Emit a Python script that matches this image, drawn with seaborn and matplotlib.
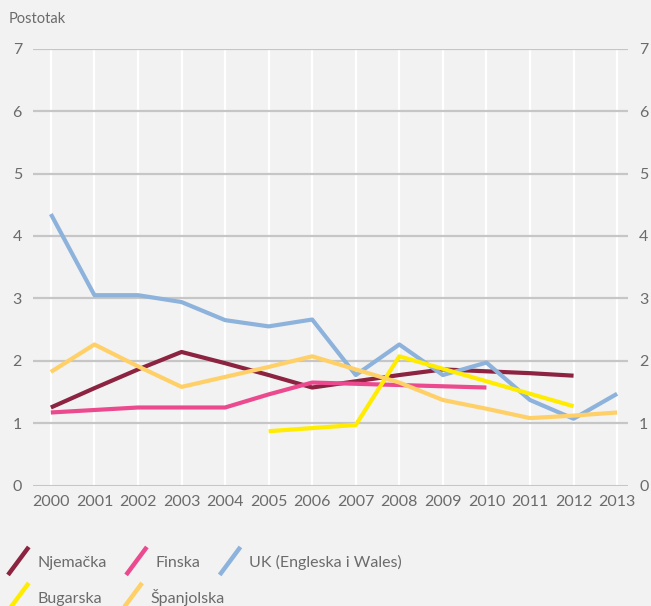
import numpy as np
import pandas as pd
import matplotlib
matplotlib.use("Agg")
import matplotlib.pyplot as plt
from matplotlib.lines import Line2D
from matplotlib.legend_handler import HandlerBase
import seaborn as sns

years = list(range(2000, 2014))
nan = np.nan

njemacka = [1.25, 1.56, 1.86, 2.14, 1.96, 1.77, 1.57, 1.67, 1.77, 1.86, 1.83, 1.80, 1.76, nan]
finska = [1.17, 1.21, 1.25, 1.25, 1.25, 1.46, 1.65, 1.63, 1.61, 1.59, 1.57, nan, nan, nan]
uk = [4.35, 3.05, 3.05, 2.94, 2.65, 2.55, 2.66, 1.77, 2.26, 1.77, 1.97, 1.37, 1.07, 1.47]
bugarska = [nan, nan, nan, nan, nan, 0.87, 0.92, 0.97, 2.07, 1.87, 1.67, 1.47, 1.27, nan]
spanjolska = [1.82, 2.26, 1.91, 1.58, 1.74, 1.90, 2.07, 1.86, 1.65, 1.37, 1.23, 1.08, 1.12, 1.17]

series_names = ["Njemačka", "Finska", "UK (Engleska i Wales)", "Bugarska", "Španjolska"]
series_values = [njemacka, finska, uk, bugarska, spanjolska]
colors = ["#8c2441", "#ec4a8e", "#8db3dc", "#ffec00", "#ffd067"]
y_ticks = list(range(0, 8))

rows = []
for name, vals in zip(series_names, series_values):
    for yr, v in zip(years, vals):
        rows.append({"Godina": yr, "Vrijednost": v, "Zemlja": name})
df = pd.DataFrame(rows).dropna()

sns.set_theme(style="white")
plt.rcParams["font.family"] = ["Lato", "DejaVu Sans"]

bg = "#f2f2f2"
text_col = "#6b6b6b"

fig = plt.figure(figsize=(6.51, 6.06), dpi=100, facecolor=bg)
ax = fig.add_axes([33 / 651, 1 - 485.5 / 606, (628 - 33) / 651, (485.5 - 48.7) / 606])
ax.set_facecolor(bg)

# grid: white vertical lines per year, grey horizontal lines per unit
for yr in years:
    ax.axvline(yr, color="white", lw=1.6, zorder=0)
for t in y_ticks:
    ax.axhline(t, color="#c6c6c6", lw=1.6 if t else 2.2, zorder=1)

palette = dict(zip(series_names, colors))
sns.lineplot(data=df, x="Godina", y="Vrijednost", hue="Zemlja", hue_order=series_names,
             palette=palette, lw=3.0, ax=ax, legend=False, zorder=3,
             estimator=None, sort=True)
for line in ax.get_lines()[-5:]:
    line.set_solid_capstyle("butt")

ax.set_xlim(1999.59, 2013.25)
ax.set_ylim(0, 7)
ax.set_xticks(years)
ax.set_xticklabels([str(y) for y in years])
ax.set_yticks(y_ticks)
ax.tick_params(axis="both", length=0, labelsize=11.5, colors=text_col)
ax.tick_params(axis="x", pad=7)
ax.tick_params(axis="y", pad=8, labelright=True, right=False)
ax.set_xlabel("")
ax.set_ylabel("")
for s in ax.spines.values():
    s.set_visible(False)

fig.text(9 / 651, 1 - 19 / 606, "Postotak", fontsize=10.5, color=text_col, va="center", ha="left")


class DiagonalHandler(HandlerBase):
    def create_artists(self, legend, orig_handle, xdescent, ydescent, width, height, fontsize, trans):
        ln = Line2D([0 - xdescent, width - xdescent], [-0.75 * height - ydescent, 1.75 * height - ydescent],
                    color=orig_handle.get_color(), lw=3.2, solid_capstyle="butt", transform=trans)
        return [ln]


handles = {n: Line2D([], [], color=c) for n, c in zip(series_names, colors)}
legend_rows = [(["Njemačka", "Finska", "UK (Engleska i Wales)"], 562),
               (["Bugarska", "Španjolska"], 597)]
for names, ypix in legend_rows:
    leg = fig.legend([handles[n] for n in names], names, ncol=len(names),
                     handler_map={Line2D: DiagonalHandler()},
                     loc="center left", bbox_to_anchor=(8 / 651, 1 - ypix / 606),
                     frameon=False, fontsize=11.5, labelcolor=text_col,
                     handlelength=1.3, handletextpad=0.55, columnspacing=1.2,
                     borderpad=0, borderaxespad=0)

fig.savefig("out.png", dpi=100, facecolor=bg)
